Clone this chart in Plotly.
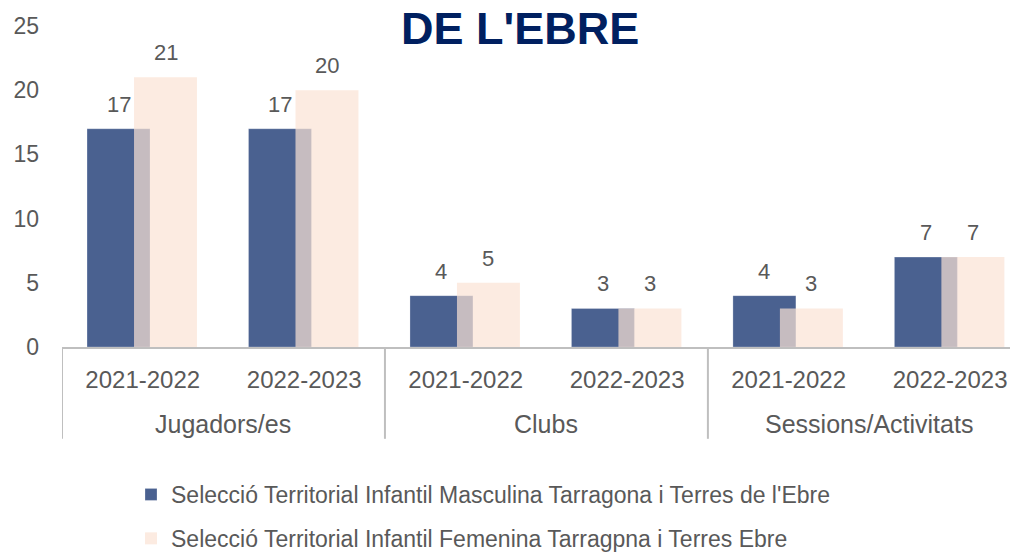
import plotly.graph_objects as go

groups = ["Jugadors/es", "Jugadors/es", "Clubs", "Clubs", "Sessions/Activitats", "Sessions/Activitats"]
seasons = ["2021-2022", "2022-2023", "2021-2022", "2022-2023", "2021-2022", "2022-2023"]
masculina = [17, 17, 4, 3, 4, 7]
femenina = [21, 20, 5, 3, 3, 7]
name_masc = "Selecció Territorial Infantil Masculina Tarragona i Terres de l'Ebre"
name_fem = "Selecció Territorial Infantil Femenina Tarragpna i Terres Ebre"
y_ticks = [0, 5, 10, 15, 20, 25]
group_names = ["Jugadors/es", "Clubs", "Sessions/Activitats"]

FONT = "Liberation Sans, Arial, sans-serif"
GREY = "#595959"

# unique category keys for each bar slot
keys = [f"{g}|{s}" for g, s in zip(groups, seasons)]

W_BAR = 0.39
OFF_M = -0.345
OFF_F = -0.054
X_MAX = 5.47
UNIT_PX = 964 / (X_MAX + 0.5)  # pixel width of one category slot

fig = go.Figure()
fig.add_trace(go.Bar(
    x=keys, y=masculina, name=name_masc, legendgroup="m",
    marker=dict(color="#4a6190", line=dict(width=1, color="rgba(255,255,255,0.25)")),
    offset=OFF_M, width=W_BAR,
))
fig.add_trace(go.Bar(
    x=keys, y=femenina, name=name_fem, legendgroup="f",
    marker=dict(color="rgba(251,226,212,0.7)", line=dict(width=0)),
    offset=OFF_F, width=W_BAR,
))

annotations = []
for k, vm, vf in zip(keys, masculina, femenina):
    for v, off in ((vm, OFF_M), (vf, OFF_F)):
        annotations.append(dict(
            x=k, y=v, xref="x", yref="y", text=str(v), showarrow=False,
            xanchor="center", yanchor="bottom",
            xshift=(off + W_BAR / 2) * UNIT_PX, yshift=10,
            font=dict(size=22, color=GREY, family=FONT),
        ))

# group labels centered under each pair of seasons
for i, gname in enumerate(group_names):
    annotations.append(dict(
        x=2 * i + 0.5, y=-0.239, xref="x", yref="paper", text=gname, showarrow=False,
        xanchor="center", yanchor="middle",
        font=dict(size=25, color=GREY, family=FONT),
    ))

shapes = []
for i in range(len(group_names)):
    shapes.append(dict(
        type="line", xref="x", yref="paper", x0=2 * i - 0.5, x1=2 * i - 0.5,
        y0=0, y1=-0.286, line=dict(color="#bfbfbf", width=2),
    ))

fig.update_layout(
    width=1018, height=552,
    barmode="overlay",
    margin=dict(l=54, r=0, t=18, b=212),
    paper_bgcolor="white", plot_bgcolor="white",
    font=dict(family=FONT, color=GREY, size=22),
    title=dict(text="<b>DE L'EBRE</b>", x=0.503, xanchor="center", y=0.964, yanchor="middle",
               xref="container", yref="container",
               font=dict(size=45, color="#002060", family=FONT)),
    showlegend=True,
    legend=dict(orientation="v", x=0.0716, xanchor="left", y=-0.392, yanchor="top",
                font=dict(size=23, color=GREY, family=FONT), tracegroupgap=11,
                itemwidth=30, traceorder="grouped", bgcolor="rgba(0,0,0,0)"),
    annotations=annotations,
    shapes=shapes,
)
fig.update_xaxes(
    type="category", range=[-0.5, X_MAX],
    tickvals=keys, ticktext=seasons,
    showline=True, linecolor="#bfbfbf", linewidth=2,
    tickfont=dict(size=24, color=GREY, family=FONT), ticklabelstandoff=10,
    showgrid=False, zeroline=False, ticks="",
)
fig.update_yaxes(
    range=[0, 25], tickvals=y_ticks, showgrid=False, zeroline=False, showline=False,
    tickfont=dict(size=23, color=GREY, family=FONT), ticklabelstandoff=22,
)

fig.write_html("out.html")
